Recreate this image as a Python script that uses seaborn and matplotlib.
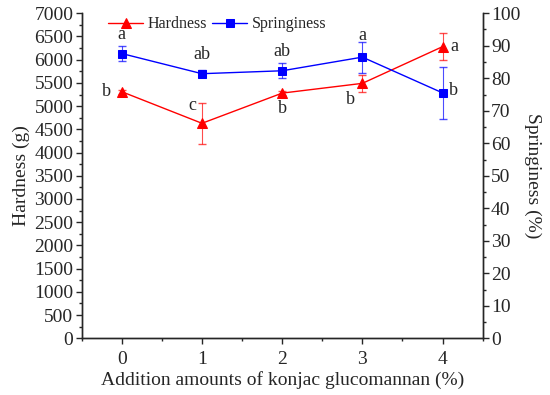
import numpy as np
import pandas as pd
import seaborn as sns
import matplotlib
matplotlib.use("Agg")
import matplotlib.pyplot as plt
from matplotlib.ticker import MultipleLocator

# data
kgm = [0, 1, 2, 3, 4]
hardness = [5310, 4630, 5280, 5490, 6280]
hardness_err = [40, 440, 50, 190, 290]
hardness_sig = ["b", "c", "b", "b", "a"]
springiness = [87.6, 81.4, 82.3, 86.5, 75.5]
springiness_err = [2.4, 1.0, 2.3, 4.8, 8.0]
springiness_sig = ["a", "ab", "ab", "a", "b"]

sns.set_style("ticks")
plt.rcParams["font.family"] = ["Liberation Serif", "DejaVu Serif"]
plt.rcParams["xtick.direction"] = "out"
plt.rcParams["ytick.direction"] = "out"

df = pd.DataFrame({"kgm": kgm, "hard": hardness, "spring": springiness})

fig = plt.figure(figsize=(5.5, 3.95), dpi=100)
ax = fig.add_axes([0.1485, 0.1435, 0.729, 0.823])
ax2 = ax.twinx()

red = "#ff0000"
blue = "#0000ff"

sns.lineplot(data=df, x="kgm", y="hard", ax=ax, color=red, marker="^",
             markersize=7, markeredgecolor=red, lw=1, label="Hardness", legend=False)
ax.errorbar(kgm, hardness, yerr=hardness_err, fmt="none", ecolor=red,
            elinewidth=0.8, capsize=3, alpha=0.7)
sns.lineplot(data=df, x="kgm", y="spring", ax=ax2, color=blue, marker="s",
             markersize=6, markeredgecolor=blue, lw=1, label="Springiness", legend=False)
ax2.errorbar(kgm, springiness, yerr=springiness_err, fmt="none", ecolor=blue,
             elinewidth=0.8, capsize=3, alpha=0.7)

# significance letters
h_off = [(-0.19, 0), (-0.12, 380), (0, -340), (-0.15, -340), (0.15, 0)]
for x, y, s, (dx, dy) in zip(kgm, hardness, hardness_sig, h_off):
    ax.text(x + dx, y + dy, s, ha="center", va="center", fontsize=13)
s_off = [(0, 6.0), (0, 6.0), (0, 6.0), (0, 6.6), (0.13, 0.8)]
for x, y, s, (dx, dy) in zip(kgm, springiness, springiness_sig, s_off):
    ax2.text(x + dx, y + dy, s, ha="center", va="center", fontsize=13)

ax.set_xlim(-0.5, 4.5)
ax.set_ylim(0, 7000)
ax2.set_ylim(0, 100)
ax.xaxis.set_major_locator(MultipleLocator(1))
ax.xaxis.set_minor_locator(MultipleLocator(0.5))
ax.yaxis.set_major_locator(MultipleLocator(500))
ax.yaxis.set_minor_locator(MultipleLocator(250))
ax2.yaxis.set_major_locator(MultipleLocator(10))
ax2.yaxis.set_minor_locator(MultipleLocator(5))

for a in (ax, ax2):
    a.tick_params(which="major", length=4, width=1, labelsize=14, pad=2)
    a.tick_params(which="minor", length=2, width=1)
    for sp in a.spines.values():
        sp.set_linewidth(1)
ax.tick_params(axis="x", which="major", pad=5)
ax.spines["top"].set_visible(False)
ax2.spines["top"].set_visible(False)

ax.set_xlabel("Addition amounts of konjac glucomannan (%)", fontsize=14, labelpad=2)
ax.set_ylabel("Hardness (g)", fontsize=14, labelpad=3)
ax2.set_ylabel("Springiness (%)", fontsize=14, rotation=270, labelpad=15)

h1, l1 = ax.get_legend_handles_labels()
h2, l2 = ax2.get_legend_handles_labels()
ax.legend(h1 + h2, l1 + l2, loc="upper left", ncol=2, frameon=False,
          fontsize=11.5, bbox_to_anchor=(0.03, 1.035), handlelength=2.2,
          columnspacing=0.3, handletextpad=0.3)

fig.savefig("out.png", dpi=100)
